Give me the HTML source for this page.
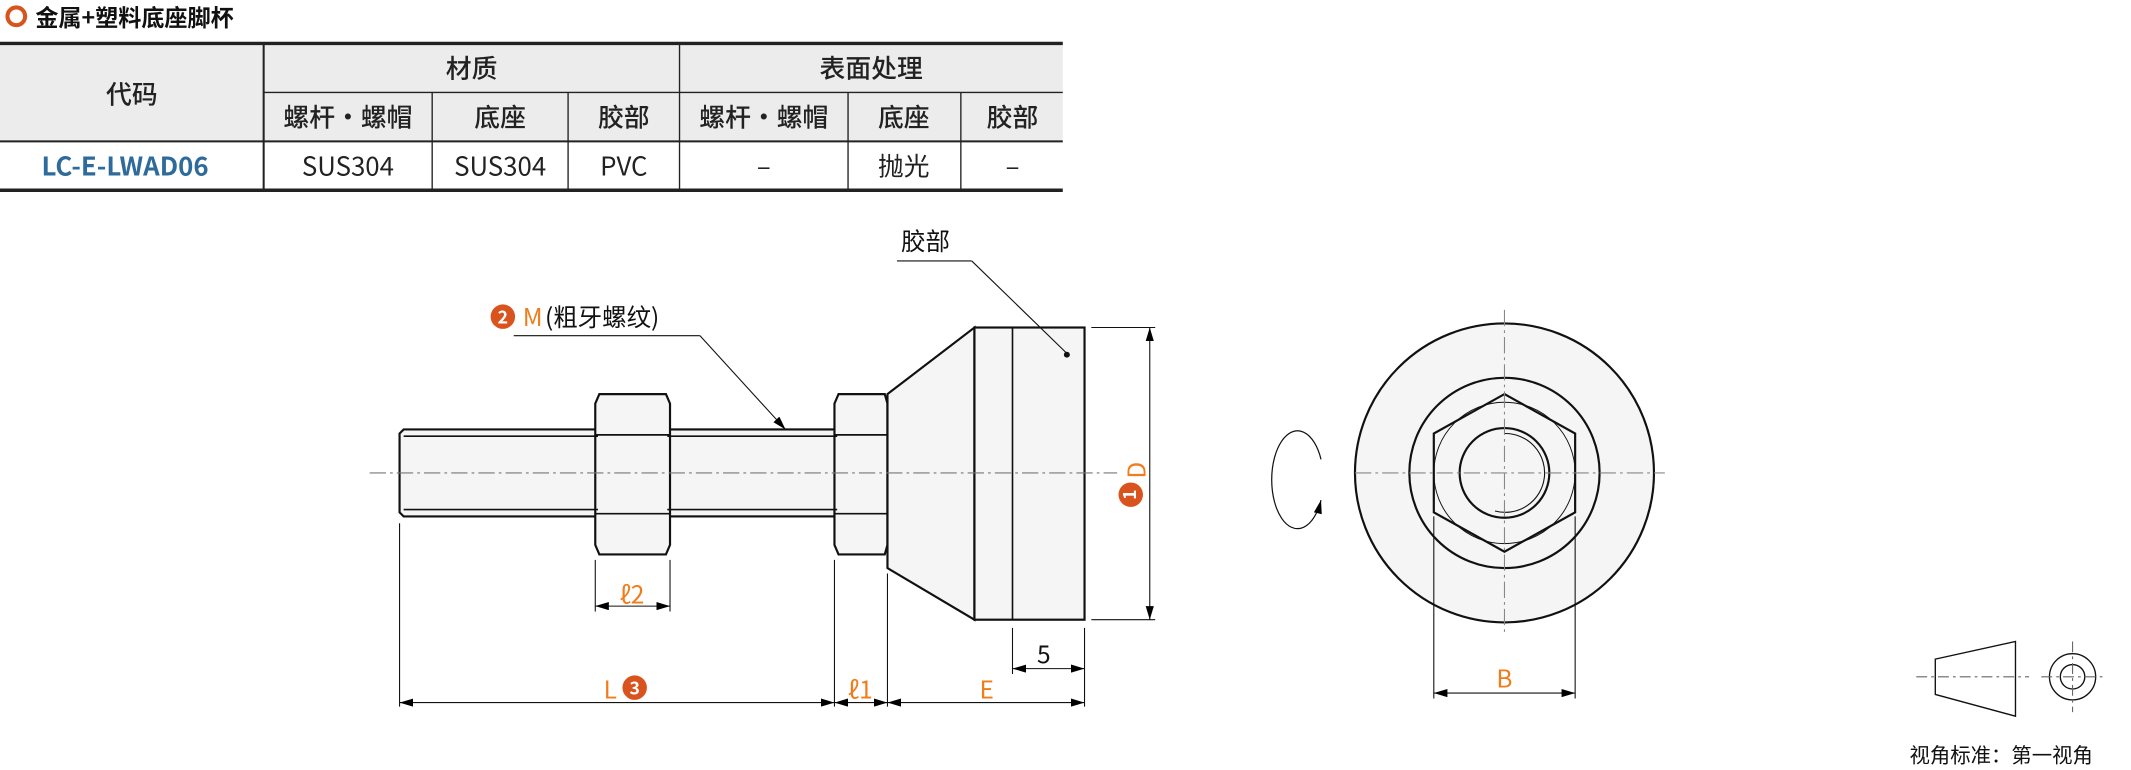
<!DOCTYPE html>
<html><head><meta charset="utf-8"><style>
html,body{margin:0;padding:0;background:#fff;}
svg{display:block;}
text{font-family:"Noto Sans CJK SC","Liberation Sans",sans-serif;}
</style></head><body>
<svg width="2131" height="770" viewBox="0 0 1568 566.6" preserveAspectRatio="none" xmlns="http://www.w3.org/2000/svg">
<defs>
<marker id="a" viewBox="0 0 10 6" refX="10" refY="3" markerWidth="10" markerHeight="6" orient="auto-start-reverse" markerUnits="userSpaceOnUse"><path d="M0,0 L10,3 L0,6 Z" fill="#000"/></marker>
</defs>
<!-- title -->
<circle cx="12" cy="12" r="6.5" fill="none" stroke="#d9531e" stroke-width="3"/>
<text x="26" y="19" font-size="17" font-weight="bold" fill="#111">金属+塑料底座脚杯</text>
<!-- table -->
<rect x="0" y="32" width="782" height="72" fill="#ececec"/>
<line x1="0" y1="32" x2="782" y2="32" stroke="#222" stroke-width="2.5"/>
<line x1="0" y1="140" x2="782" y2="140" stroke="#222" stroke-width="2.5"/>
<line x1="0" y1="104" x2="782" y2="104" stroke="#222" stroke-width="1.5"/>
<line x1="194" y1="68" x2="782" y2="68" stroke="#222" stroke-width="1"/>
<g stroke="#222" stroke-width="1">
<line x1="194" y1="32" x2="194" y2="140" stroke-width="1.5"/>
<line x1="500" y1="32" x2="500" y2="140"/>
<line x1="318" y1="68" x2="318" y2="140"/>
<line x1="418" y1="68" x2="418" y2="140"/>
<line x1="624" y1="68" x2="624" y2="140"/>
<line x1="707" y1="68" x2="707" y2="140"/>
</g>
<g font-size="19" fill="#222" text-anchor="middle" font-weight="500">
<text x="97" y="76">代码</text>
<text x="347" y="57">材质</text>
<text x="641" y="57">表面处理</text>
<text x="256" y="93">螺杆·螺帽</text>
<text x="368" y="93">底座</text>
<text x="459" y="93">胶部</text>
<text x="562" y="93">螺杆·螺帽</text>
<text x="665" y="93">底座</text>
<text x="745" y="93">胶部</text>
</g>
<g font-size="19" fill="#222" text-anchor="middle">
<text x="92" y="129" fill="#2e6b9b" font-weight="bold">LC-E-LWAD06</text>
<text x="256" y="129">SUS304</text>
<text x="368" y="129">SUS304</text>
<text x="459" y="129">PVC</text>
<text x="562" y="129">–</text>
<text x="665" y="129">抛光</text>
<text x="745" y="129">–</text>
</g>
<!-- side view -->
<g stroke="#111" stroke-width="1.6" fill="#f5f5f5">
<path d="M297,316 L440,316 L440,380 L297,380 L294,377 L294,319 Z"/>
<rect x="491" y="316" width="125" height="64"/>
<path d="M441,290 L490,290 L493,297 L493,401 L490,408 L441,408 L438,401 L438,297 Z"/>
<path d="M617,290 L651,290 L653,297 L653,401 L651,408 L617,408 L614,401 L614,297 Z"/>
<path d="M653,290 L653,418 L717,456 L717,241 Z"/>
<rect x="717" y="241" width="81" height="215"/>
</g>
<g stroke="#111" stroke-width="1.2" fill="none">
<line x1="297" y1="321" x2="440" y2="321"/><line x1="297" y1="375" x2="440" y2="375"/>
<line x1="491" y1="321" x2="616" y2="321"/><line x1="491" y1="375" x2="616" y2="375"/>
<line x1="438" y1="320" x2="493" y2="320"/><line x1="438" y1="378" x2="493" y2="378"/>
<line x1="614" y1="320" x2="653" y2="320"/><line x1="614" y1="378" x2="653" y2="378"/>
<line x1="745" y1="241" x2="745" y2="456"/>
</g>
<line x1="272" y1="348" x2="822" y2="348" stroke="#777" stroke-width="0.8" stroke-dasharray="12,3,2,3"/>
<!-- dims -->
<g stroke="#111" stroke-width="0.8" fill="none">
<line x1="803" y1="241" x2="850" y2="241"/><line x1="803" y1="456" x2="850" y2="456"/>
<line x1="846" y1="241" x2="846" y2="456" marker-start="url(#a)" marker-end="url(#a)"/>
<line x1="745" y1="462" x2="745" y2="496"/><line x1="798" y1="462" x2="798" y2="520"/>
<line x1="745" y1="492" x2="798" y2="492" marker-start="url(#a)" marker-end="url(#a)"/>
<line x1="294" y1="385" x2="294" y2="520"/><line x1="614" y1="412" x2="614" y2="520"/><line x1="653" y1="422" x2="653" y2="520"/>
<line x1="438" y1="412" x2="438" y2="450"/><line x1="493" y1="412" x2="493" y2="450"/>
<line x1="438" y1="446" x2="493" y2="446" marker-start="url(#a)" marker-end="url(#a)"/>
<line x1="294" y1="517" x2="614" y2="517" marker-start="url(#a)" marker-end="url(#a)"/>
<line x1="614" y1="517" x2="653" y2="517" marker-start="url(#a)" marker-end="url(#a)"/>
<line x1="653" y1="517" x2="798" y2="517" marker-start="url(#a)" marker-end="url(#a)"/>
<line x1="378" y1="247" x2="515" y2="247"/><line x1="515" y1="247" x2="578" y2="316" marker-end="url(#a)"/>
<line x1="660" y1="192" x2="715" y2="192"/><line x1="715" y1="192" x2="785" y2="260"/>
</g>
<circle cx="785" cy="261" r="2.2" fill="#111"/>
<g font-size="18" fill="#f07d1a" text-anchor="middle">
<text x="465" y="444">ℓ2</text>
<text x="449" y="514">L</text>
<text x="633" y="514">ℓ1</text>
<text x="726" y="514">E</text>
<text x="1107" y="506">B</text>
<text x="392" y="240">M</text>
<text transform="translate(843,346) rotate(-90)" x="0" y="0">D</text>
</g>
<circle cx="467" cy="506" r="9" fill="#d9531e"/><text x="467" y="511" font-size="13" font-weight="bold" fill="#fff" text-anchor="middle">3</text>
<circle cx="370" cy="233" r="9" fill="#d9531e"/><text x="370" y="238" font-size="13" font-weight="bold" fill="#fff" text-anchor="middle">2</text>
<circle cx="832" cy="364" r="9" fill="#d9531e"/><text transform="translate(836,364) rotate(-90)" x="0" y="0" font-size="13" font-weight="bold" fill="#fff" text-anchor="middle">1</text>
<text x="401" y="240" font-size="18" fill="#111">(粗牙螺纹)</text>
<text x="663" y="184" font-size="18" fill="#111">胶部</text>
<text x="768" y="488" font-size="18" fill="#111" text-anchor="middle">5</text>
<!-- front view -->
<g stroke="#111" fill="none">
<circle cx="1107" cy="348" r="110" fill="#f5f5f5" stroke-width="1.6"/>
<circle cx="1107" cy="348" r="70" stroke-width="1.6"/>
<polygon points="1107,290 1159,319 1159,377 1107,406 1055,377 1055,319" stroke-width="1.6"/>
<circle cx="1107" cy="348" r="52" stroke-width="0.7"/>
<circle cx="1107" cy="348" r="33" stroke-width="1.6"/>
<path d="M1107,319 A29,29 0 1 1 1100,376" stroke-width="0.8"/>
<line x1="1055" y1="380" x2="1055" y2="514" stroke-width="0.8"/><line x1="1159" y1="380" x2="1159" y2="514" stroke-width="0.8"/>
<line x1="1055" y1="510" x2="1159" y2="510" stroke-width="0.8" marker-start="url(#a)" marker-end="url(#a)"/>
<path d="M972,338 A19,36 0 1 0 972,368" stroke-width="0.9" marker-end="url(#a)"/>
</g>
<g stroke="#888" stroke-width="0.8" stroke-dasharray="12,3,2,3">
<line x1="997" y1="348" x2="1225" y2="348"/>
<line x1="1107" y1="228" x2="1107" y2="467"/>
</g>
<!-- projection symbol -->
<g stroke="#111" stroke-width="1" fill="none">
<polygon points="1424,485 1483,472 1483,527 1424,511"/>
<circle cx="1525" cy="498" r="17"/><circle cx="1525" cy="498" r="9"/>
</g>
<g stroke="#666" stroke-width="0.8" stroke-dasharray="8,3,2,3">
<line x1="1410" y1="498" x2="1493" y2="498"/>
<line x1="1502" y1="498" x2="1548" y2="498"/>
<line x1="1525" y1="472" x2="1525" y2="524"/>
</g>
<text x="1405" y="561" font-size="15" fill="#111">视角标准：第一视角</text>
</svg>
</body></html>
